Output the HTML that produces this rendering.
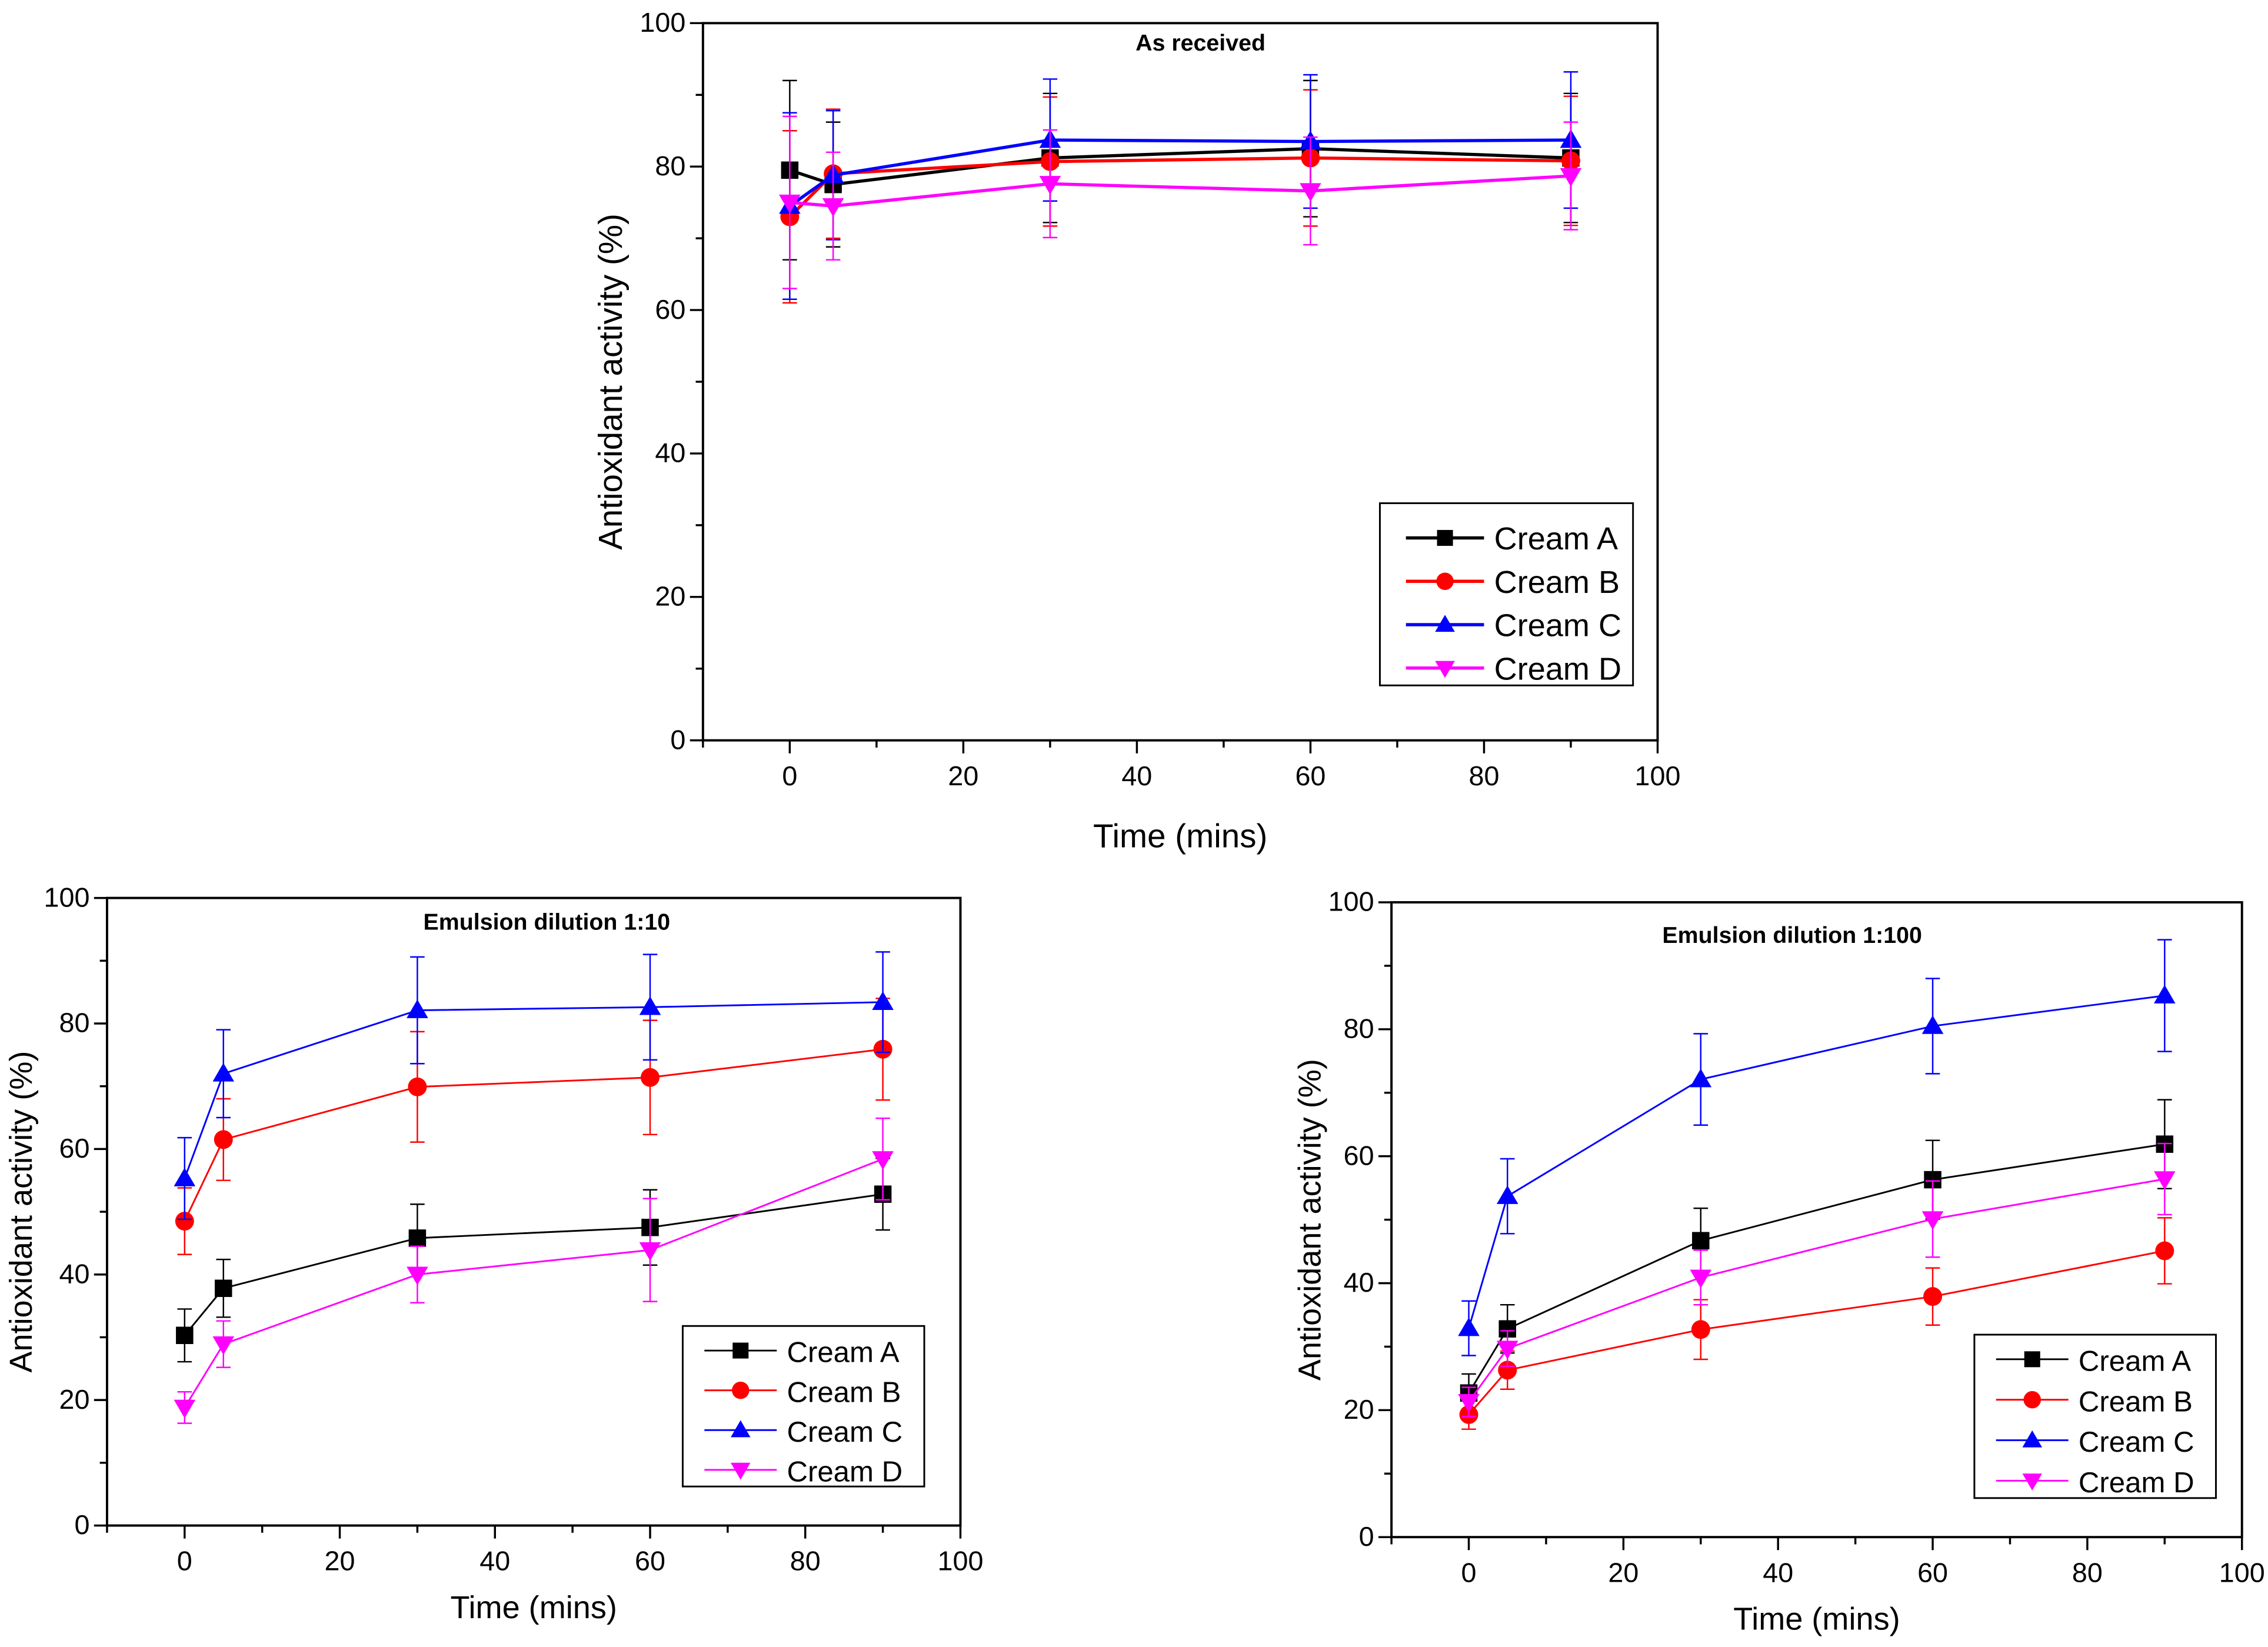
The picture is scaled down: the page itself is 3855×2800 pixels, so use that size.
<!DOCTYPE html>
<html><head><meta charset="utf-8"><style>
html,body{margin:0;padding:0;background:#fff;}
svg{display:block;font-family:"Liberation Sans",Arial,sans-serif;}
</style></head><body>
<svg id="fig" width="3855" height="2800" viewBox="0 0 1568 1139" preserveAspectRatio="none" xmlns="http://www.w3.org/2000/svg"></svg>
<script>
const xs = [0, 5, 30, 60, 90];
const seriesNames = ["Cream A", "Cream B", "Cream C", "Cream D"];
const colors = ["#000000", "#ff0000", "#0000ff", "#ff00ff"];
const markers = ["square", "circle", "up", "down"];
const xTicks = [0, 20, 40, 60, 80, 100];
const yTicks = [0, 20, 40, 60, 80, 100];

const recA = [79.5, 77.5, 81.2, 82.5, 81.2];
const recB = [73, 79, 80.7, 81.2, 80.8];
const recC = [74.5, 78.8, 83.7, 83.5, 83.7];
const recD = [75, 74.5, 77.6, 76.6, 78.7];
const recAErr = [12.5, 8.7, 9, 9.5, 9];
const recBErr = [12, 9, 9, 9.5, 9];
const recCErr = [13, 9, 8.5, 9.3, 9.5];
const recDErr = [12, 7.5, 7.5, 7.5, 7.5];

const d10A = [30.3, 37.8, 45.8, 47.5, 52.8];
const d10B = [48.5, 61.5, 69.9, 71.4, 75.9];
const d10C = [55.3, 72, 82.1, 82.6, 83.4];
const d10D = [18.8, 28.9, 40, 43.9, 58.4];
const d10AErr = [4.2, 4.6, 5.4, 6, 5.7];
const d10BErr = [5.3, 6.5, 8.8, 9.1, 8.1];
const d10CErr = [6.5, 7, 8.5, 8.4, 8];
const d10DErr = [2.5, 3.7, 4.5, 8.2, 6.5];

const d100A = [22.7, 32.8, 46.7, 56.3, 61.9];
const d100B = [19.3, 26.3, 32.7, 37.9, 45.1];
const d100C = [32.9, 53.7, 72.1, 80.5, 85.3];
const d100D = [21.3, 29.7, 40.9, 50.1, 56.4];
const d100AErr = [3, 3.8, 5.1, 6.2, 7];
const d100BErr = [2.3, 3, 4.7, 4.5, 5.2];
const d100CErr = [4.3, 5.9, 7.2, 7.5, 8.8];
const d100DErr = [2.3, 2.8, 4.3, 6, 5.6];

const NS = "http://www.w3.org/2000/svg";
const svg = document.getElementById("fig");
function mk(tag, attrs, parent) {
  const e = document.createElementNS(NS, tag);
  for (const k in attrs) e.setAttribute(k, attrs[k]);
  (parent || svg).appendChild(e);
  return e;
}
function marker(g, type, cx, cy, s, col) {
  let e;
  if (type === "square") e = mk("rect", {x: cx - s/2, y: cy - s/2, width: s, height: s, fill: col}, g);
  else if (type === "circle") e = mk("circle", {cx: cx, cy: cy, r: s/2 + 0.5, fill: col}, g);
  else if (type === "up") e = mk("polygon", {points: `${cx},${cy - s*0.62} ${cx - s*0.62},${cy + s*0.45} ${cx + s*0.62},${cy + s*0.45}`, fill: col}, g);
  else e = mk("polygon", {points: `${cx},${cy + s*0.62} ${cx - s*0.62},${cy - s*0.45} ${cx + s*0.62},${cy - s*0.45}`, fill: col}, g);
  return e;
}

function chart(cfg) {
  const g = mk("g", {});
  
  
  const X = v => cfg.L + (v + 10) / 110 * (cfg.R - cfg.L);
  const Y = v => cfg.B - v / 100 * (cfg.B - cfg.T);
  const frame = mk("rect", {x: cfg.L, y: cfg.T, width: cfg.R - cfg.L, height: cfg.B - cfg.T, fill: "none", stroke: "#000", "stroke-width": 1.6}, g);
  
  
  const xt = mk("g", {}, g);
  
  
  for (let v = -10; v <= 100; v += 10) {
    const major = v % 20 === 0;
    mk("line", {x1: X(v), x2: X(v), y1: cfg.B, y2: cfg.B + (major ? 9 : 5), stroke: "#000", "stroke-width": 1.4}, xt);
  }
  xTicks.forEach(v => {
    const t = mk("text", {x: X(v), y: cfg.B + 31, "font-size": 19, "text-anchor": "middle"}, xt);
    t.textContent = v;
    
    
  });
  const yt = mk("g", {}, g);
  
  
  for (let v = 0; v <= 100; v += 10) {
    const major = v % 20 === 0;
    mk("line", {x1: cfg.L, x2: cfg.L - (major ? 9 : 5), y1: Y(v), y2: Y(v), stroke: "#000", "stroke-width": 1.4}, yt);
  }
  yTicks.forEach(v => {
    const t = mk("text", {x: cfg.L - 12, y: Y(v) + 6, "font-size": 19, "text-anchor": "end"}, yt);
    t.textContent = v;
    
    
  });
  const xtitle = mk("text", {x: (cfg.L + cfg.R) / 2, y: cfg.xtY, "font-size": cfg.titleSize, "text-anchor": "middle"}, g);
  xtitle.textContent = "Time (mins)";
  
  
  const yc = (cfg.T + cfg.B) / 2;
  const ytitle = mk("text", {x: cfg.ytX, y: yc, "font-size": cfg.titleSize, "text-anchor": "middle", transform: `rotate(-90 ${cfg.ytX} ${yc})`}, g);
  ytitle.textContent = "Antioxidant activity (%)";
  
  
  const title = mk("text", {x: cfg.titleX, y: cfg.titleY, "font-size": 16, "font-weight": "bold", "text-anchor": "middle"}, g);
  title.textContent = cfg.title;
  
  
  cfg.series.forEach((vals, si) => {
    const sg = mk("g", {}, g);
    
    
    const col = colors[si];
    const errs = cfg.errs[si];
    vals.forEach((v, i) => {
      const x = X(xs[i]);
      const eb = mk("g", {}, sg);
      
      
      mk("line", {x1: x, x2: x, y1: Y(v + errs[i]), y2: Y(v - errs[i]), stroke: col, "stroke-width": 1}, eb);
      mk("line", {x1: x - 5, x2: x + 5, y1: Y(v + errs[i]), y2: Y(v + errs[i]), stroke: col, "stroke-width": 1}, eb);
      mk("line", {x1: x - 5, x2: x + 5, y1: Y(v - errs[i]), y2: Y(v - errs[i]), stroke: col, "stroke-width": 1}, eb);
    });
    const pl = mk("polyline", {points: vals.map((v, i) => X(xs[i]) + "," + Y(v)).join(" "), fill: "none", stroke: col, "stroke-width": cfg.lw}, sg);
    
    
    vals.forEach((v, i) => {
      const m = marker(sg, markers[si], X(xs[i]), Y(v), 12, col);
      
      
    });
  });
  const lg = mk("g", {}, g);
  
  
  const lb = cfg.leg;
  mk("rect", {x: lb.x, y: lb.y, width: lb.w, height: lb.h, fill: "#fff", stroke: "#000", "stroke-width": 1.2}, lg);
  seriesNames.forEach((n, si) => {
    const ry = lb.y0 + si * lb.dy;
    const le = mk("g", {}, lg);
    
    
    mk("line", {x1: lb.lx1, x2: lb.lx2, y1: ry, y2: ry, stroke: colors[si], "stroke-width": cfg.lw}, le);
    marker(le, markers[si], (lb.lx1 + lb.lx2) / 2, ry, 11, colors[si]);
    const t = mk("text", {x: lb.tx, y: ry + 8, "font-size": lb.fs}, le);
    t.textContent = n;
  });
}

chart({name: "chart-as-received", L: 486, R: 1146, T: 16, B: 512, lw: 2.2,
  xtY: 586, ytX: 430, titleSize: 23, title: "As received", titleX: 830, titleY: 35,
  series: [recA, recB, recC, recD], errs: [recAErr, recBErr, recCErr, recDErr],
  leg: {x: 954, y: 348, w: 175, h: 126, y0: 372, dy: 30, lx1: 972, lx2: 1026, tx: 1033, fs: 22}});
chart({name: "chart-dilution-1-10", L: 74, R: 664, T: 621, B: 1055, lw: 1.2,
  xtY: 1119, ytX: 22, titleSize: 22, title: "Emulsion dilution 1:10", titleX: 378, titleY: 643,
  series: [d10A, d10B, d10C, d10D], errs: [d10AErr, d10BErr, d10CErr, d10DErr],
  leg: {x: 472, y: 917, w: 167, h: 111, y0: 934, dy: 27.5, lx1: 487, lx2: 537, tx: 544, fs: 20}});
chart({name: "chart-dilution-1-100", L: 962, R: 1550, T: 624, B: 1063, lw: 1.2,
  xtY: 1127, ytX: 913, titleSize: 22, title: "Emulsion dilution 1:100", titleX: 1239, titleY: 652,
  series: [d100A, d100B, d100C, d100D], errs: [d100AErr, d100BErr, d100CErr, d100DErr],
  leg: {x: 1365, y: 923, w: 167, h: 113, y0: 940, dy: 28, lx1: 1380, lx2: 1430, tx: 1437, fs: 20}});
</script>
</body></html>
